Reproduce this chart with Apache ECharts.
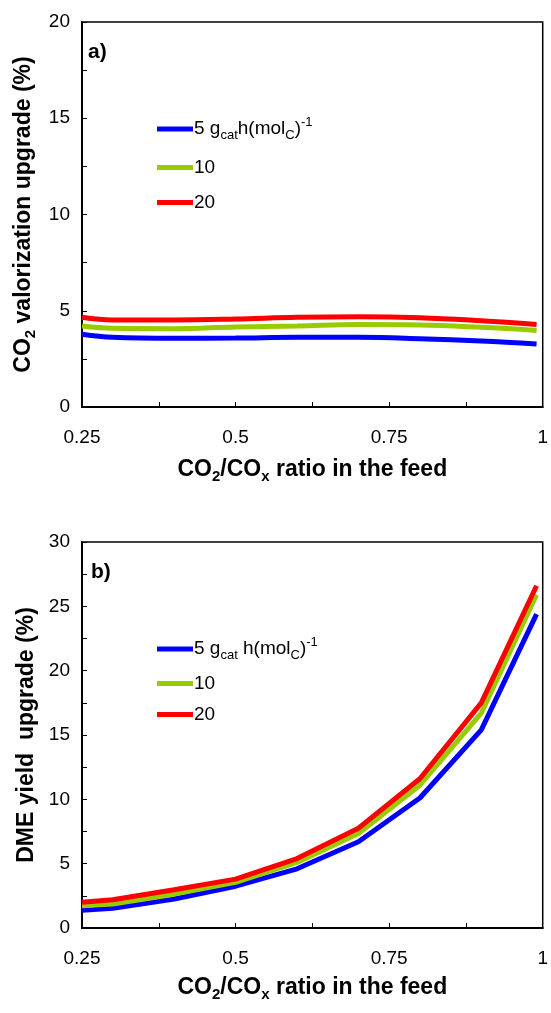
<!DOCTYPE html>
<html>
<head>
<meta charset="utf-8">
<script src="https://cdn.jsdelivr.net/npm/echarts@6/dist/echarts.min.js"></script>
<style>
  html, body { margin: 0; padding: 0; background: #fff; }
  #chart { width: 551px; height: 1013px; }
</style>
</head>
<body>
<div id="chart"></div>
<script>
// CO2/COx ratio in the feed
const ratio = [0.25, 0.3, 0.4, 0.5, 0.6, 0.7, 0.8, 0.9, 0.99];

// a) CO2 valorization upgrade (%) per space time
const valor5  = [3.78, 3.62, 3.57, 3.58, 3.62, 3.62, 3.55, 3.43, 3.27];
const valor10 = [4.21, 4.09, 4.07, 4.16, 4.21, 4.28, 4.26, 4.14, 3.98];
const valor20 = [4.66, 4.52, 4.52, 4.57, 4.66, 4.69, 4.64, 4.48, 4.29];

// b) DME yield upgrade (%) per space time
const dme5  = [1.37, 1.53, 2.25, 3.25, 4.6, 6.7, 10.1, 15.4, 24.4];
const dme10 = [1.73, 1.87, 2.63, 3.55, 5.1, 7.35, 11.1, 16.7, 25.9];
const dme20 = [2.0, 2.2, 2.97, 3.8, 5.4, 7.75, 11.6, 17.5, 26.6];

const seriesNames = ['5', '10', '20'];
const colors = ['#0000ff', '#99cc00', '#ff0000'];

const FONT = '"Liberation Sans", Arial, sans-serif';

const pairs = (ys) => ratio.map((x, i) => [x, ys[i]]);

const richTitle = {
  b:   { fontFamily: FONT, fontWeight: 'bold', fontSize: 23, color: '#000', lineHeight: 28 },
  sub: { fontFamily: FONT, fontWeight: 'bold', fontSize: 15, color: '#000', lineHeight: 15, verticalAlign: 'bottom' }
};

const richLegend = {
  t:   { fontFamily: FONT, fontSize: 19, color: '#000', lineHeight: 26 },
  sub: { fontFamily: FONT, fontSize: 13, color: '#000', lineHeight: 13, verticalAlign: 'bottom' },
  sup: { fontFamily: FONT, fontSize: 13, color: '#000', lineHeight: 13, verticalAlign: 'top' }
};

function xAxisFor(gridIndex, gap) {
  return {
    type: 'value', gridIndex, min: 0.25, max: 1, interval: 0.125,
    name: '{b|CO}{sub|2}{b|/CO}{sub|x}{b| ratio in the feed}',
    nameLocation: 'middle', nameGap: gap,
    nameTextStyle: { rich: richTitle },
    axisLine: { lineStyle: { color: '#000', width: 2 } },
    axisTick: { inside: true, length: 5, lineStyle: { color: '#000', width: 1 } },
    axisLabel: {
      margin: 21, fontFamily: FONT, fontSize: 19, color: '#000',
      formatter: v => (Math.abs(v / 0.25 - Math.round(v / 0.25)) < 1e-6) ? String(+v.toFixed(2)) : ''
    },
    splitLine: { show: false }
  };
}

function yAxisFor(gridIndex, max, name) {
  return {
    type: 'value', gridIndex, min: 0, max, interval: 2.5,
    name, nameLocation: 'middle', nameGap: 36, nameRotate: 90,
    nameTextStyle: { rich: richTitle },
    axisLine: { lineStyle: { color: '#000', width: 2 } },
    axisTick: { inside: true, length: 5, lineStyle: { color: '#000', width: 1 } },
    axisLabel: {
      margin: 12, fontFamily: FONT, fontSize: 19, color: '#000',
      formatter: v => (v % 5 === 0) ? String(v) : ''
    },
    splitLine: { show: false }
  };
}

function lineSeries(name, data, color, idx, smooth) {
  return {
    type: 'line', name, data: pairs(data),
    xAxisIndex: idx, yAxisIndex: idx,
    showSymbol: false, smooth,
    lineStyle: { color, width: 5 },
    itemStyle: { color },
    z: 3
  };
}

function legendFor(top, itemGap, unitText) {
  return {
    data: seriesNames, orient: 'vertical', left: 157, top, padding: 0,
    icon: 'rect', itemWidth: 36, itemHeight: 5, itemGap,
    textStyle: { rich: richLegend, padding: [0, 0, 0, -4] },
    formatter: n => n === '5' ? unitText : '{t|' + n + '}',
    selectedMode: false
  };
}

const chart = echarts.init(document.getElementById('chart'), null, { renderer: 'canvas' });

chart.setOption({
  backgroundColor: '#fff',
  animation: false,
  grid: [
    { left: 82, top: 22, width: 464, height: 385, show: true, borderColor: '#000', borderWidth: 1.5 },
    { left: 82, top: 542, width: 464, height: 386, show: true, borderColor: '#000', borderWidth: 1.5 }
  ],
  xAxis: [xAxisFor(0, 49), xAxisFor(1, 46)],
  yAxis: [
    yAxisFor(0, 20, '{b|CO}{sub|2}{b| valorization upgrade (%)}'),
    yAxisFor(1, 30, '{b|DME yield  upgrade (%)}')
  ],
  legend: [
    legendFor(116, 16, '{t|5 g}{sub|cat}{t|h(mol}{sub|C}{t|)}{sup|-1}'),
    legendFor(636, 12, '{t|5 g}{sub|cat}{t| h(mol}{sub|C}{t|)}{sup|-1}')
  ],
  graphic: [
    { type: 'text', left: 88, top: 42, style: { text: 'a)', font: 'bold 21px ' + FONT, fill: '#000' } },
    { type: 'text', left: 91, top: 562, style: { text: 'b)', font: 'bold 21px ' + FONT, fill: '#000' } }
  ],
  series: [
    lineSeries('5', valor5, colors[0], 0, 0.4),
    lineSeries('10', valor10, colors[1], 0, 0.4),
    lineSeries('20', valor20, colors[2], 0, 0.4),
    lineSeries('5', dme5, colors[0], 1, false),
    lineSeries('10', dme10, colors[1], 1, false),
    lineSeries('20', dme20, colors[2], 1, false)
  ]
});
</script>
</body>
</html>
